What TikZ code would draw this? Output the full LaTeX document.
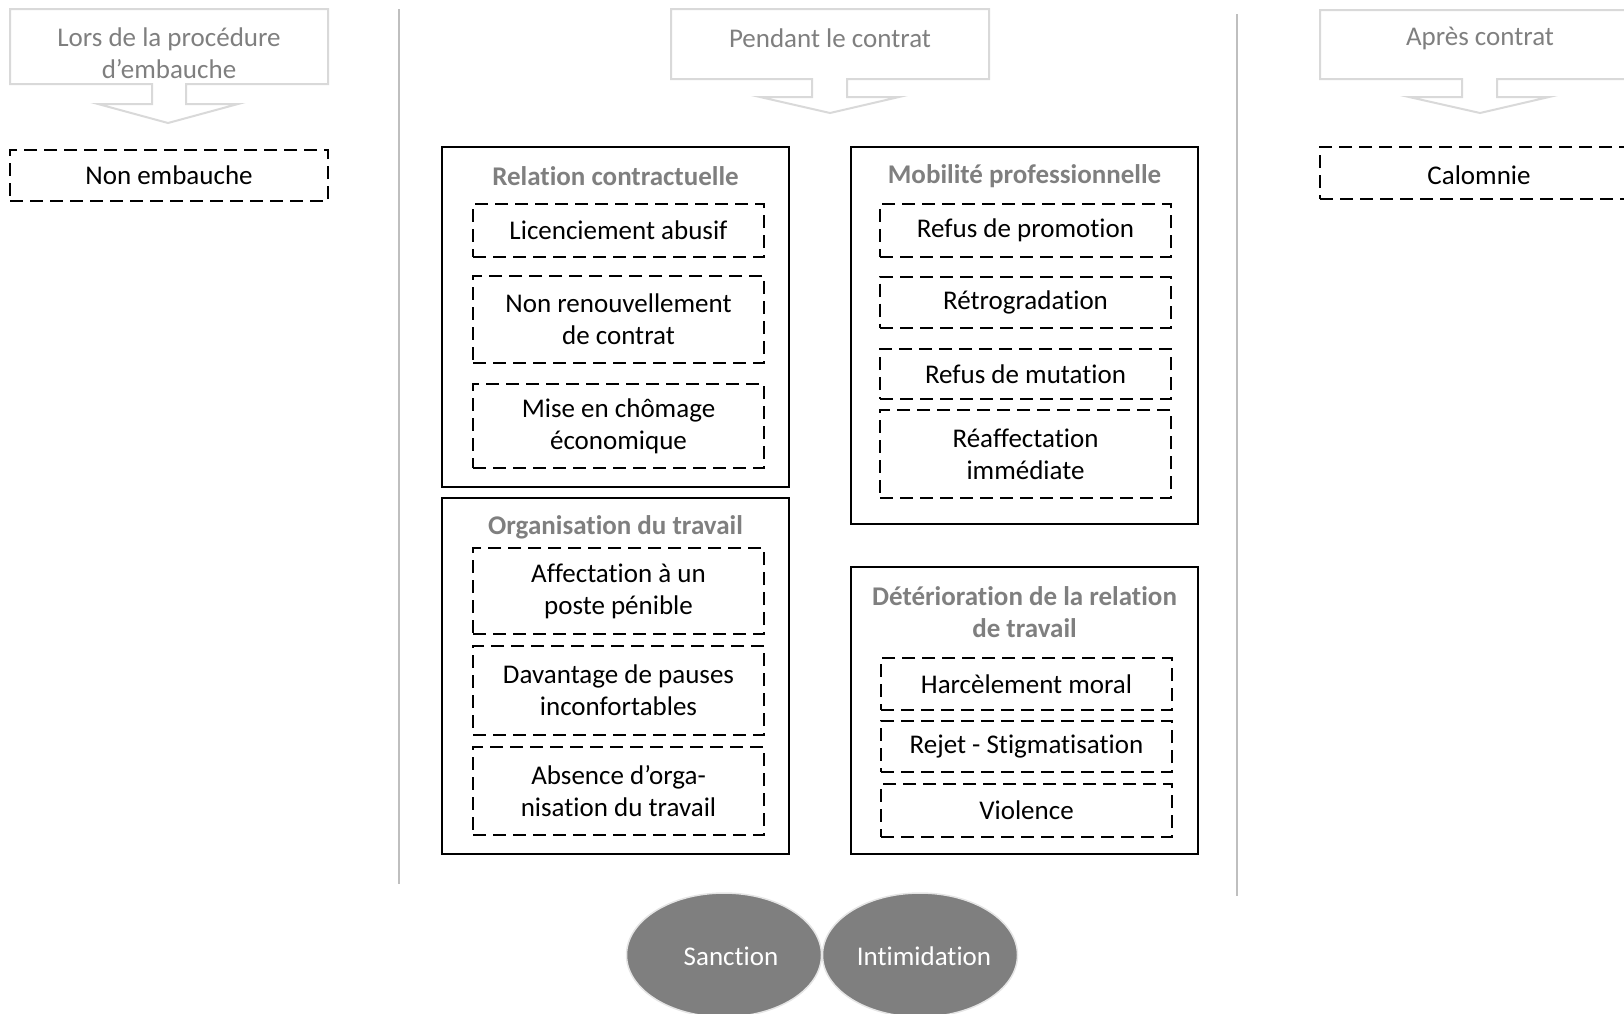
\documentclass[tikz,border=0pt]{standalone}
\usepackage{fontspec}
\setmainfont{Carlito}[RawFeature={-liga;-clig;-dlig;-calt;-rlig;-hlig}]
% keep "t" and "i" as separate glyphs
\XeTeXinterchartokenstate=1
\newXeTeXintercharclass\tletterclass
\newXeTeXintercharclass\iletterclass
\XeTeXcharclass`t=\tletterclass
\XeTeXcharclass`i=\iletterclass
\XeTeXinterchartoks\tletterclass\iletterclass={\kern0pt }
\usetikzlibrary{shapes.geometric}
\definecolor{calloutline}{HTML}{D9D9D9}
\definecolor{callouttext}{HTML}{7F7F7F}
\definecolor{titlegray}{HTML}{7F7F7F}
\definecolor{sepgray}{HTML}{BFBFBF}
\definecolor{ovalfill}{HTML}{7F7F7F}

\begin{document}
\begin{tikzpicture}[x=1pt,y=-1pt,
  every node/.style={font=\fontsize{27}{32}\selectfont, align=center, inner sep=0pt},
  callout/.style={draw=calloutline, line width=2pt, line join=miter},
  calltext/.style={text=callouttext},
  frame/.style={draw=black, line width=2pt, rectangle, minimum width=347pt},
  dbox/.style={draw=black, line width=2pt, dash pattern=on 13pt off 7pt, rectangle, minimum width=291pt},
  grouptitle/.style={text=titlegray, font=\fontsize{27}{32}\selectfont\bfseries},
  sep/.style={draw=sepgray, line width=2pt},
  oval/.style={ellipse, fill=ovalfill, draw=white!90!black, line width=1.5pt,
    minimum width=195pt, minimum height=124pt},
  ovaltext/.style={text=white},
]
\useasboundingbox (0,0) rectangle (1624,1013);
\clip (0,0) rectangle (1624,1013);

% ---- phase callouts (box with a down arrow) ----
\draw[callout] (10,9) -- (328,9) -- (328,84) -- (186,84) -- (186,104) -- (238,104)
  -- (168,123) -- (98,104) -- (152,104) -- (152,84) -- (10,84) -- cycle;
\node[calltext] (phase1) at (169,53) {Lors de la procédure\\d’embauche};

\draw[callout] (671,9) -- (989,9) -- (989,79) -- (847,79) -- (847,97) -- (899,97)
  -- (830,113) -- (760,97) -- (812,97) -- (812,79) -- (671,79) -- cycle;
\node[calltext] (phase2) at (830,38) {Pendant le contrat};

\draw[callout] (1320,10) -- (1640,10) -- (1640,79) -- (1497,79) -- (1497,97) -- (1549,97)
  -- (1480,113) -- (1409,97) -- (1462,97) -- (1462,79) -- (1320,79) -- cycle;
\node[calltext] (phase3) at (1480,38) {Après contrat};

% ---- column separators ----
\coordinate (s1top) at (399,9);
\coordinate (s1bot) at (399,884);
\coordinate (s2top) at (1237,14);
\coordinate (s2bot) at (1237,896);
\draw[sep] (s1top) -- (s1bot);
\draw[sep] (s2top) -- (s2bot);

% ---- before / after contract ----
\node[dbox, minimum width=318pt, minimum height=51pt] (nonemb) at (169,175.5) {Non embauche};
\node[dbox, minimum width=320pt, minimum height=52pt] (calom) at (1480,173) {};
\node (calomtxt) at (1479,175) {Calomnie};

% ---- Relation contractuelle ----
\node[frame, minimum height=340pt] (rc) at (615.5,317) {};
\node[grouptitle] (rct) at (615.5,176) {Relation contractuelle};
\node[dbox, minimum height=53pt] (rc1) at (618.5,230.5) {Licenciement abusif};
\node[dbox, minimum height=87pt] (rc2) at (618.5,319.5) {Non renouvellement\\de contrat};
\node[dbox, minimum height=84pt] (rc3) at (618.5,426) {Mise en chômage\\économique};

% ---- Organisation du travail ----
\node[frame, minimum height=356pt] (ot) at (615.5,676) {};
\node[grouptitle] (ott) at (615.5,527) {Organisation du travail};
\node[dbox, minimum height=86pt] (ot1) at (618.5,591) {Affectation à un\\poste pénible};
\node[dbox, minimum height=89pt] (ot2) at (618.5,690.5) {Davantage de pauses\\inconfortables};
\node[dbox, minimum height=88pt] (ot3) at (618.5,791) {Absence d’orga-\\nisation du travail};

% ---- Mobilité professionnelle ----
\node[frame, minimum height=377pt] (mp) at (1024.5,335.5) {};
\node[grouptitle] (mpt) at (1024.5,176) {Mobilité professionnelle};
\node[dbox, minimum height=53pt] (mp1) at (1025.5,230.5) {Refus de promotion};
\node[dbox, minimum height=51pt] (mp2) at (1025.5,302) {Rétrogradation};
\node[dbox, minimum height=50pt] (mp3) at (1025.5,374) {Refus de mutation};
\node[dbox, minimum height=88pt] (mp4) at (1025.5,454) {Réaffectation\\immédiate};

% ---- Détérioration de la relation de travail ----
\node[frame, minimum height=287pt] (dr) at (1024.5,710.5) {};
\node[grouptitle] (drt) at (1024.5,612) {Détérioration de la relation\\de travail};
\node[dbox, minimum height=52pt] (dr1) at (1026.5,684) {Harcèlement moral};
\node[dbox, minimum height=51pt] (dr2) at (1026.5,746.5) {Rejet - Stigmatisation};
\node[dbox, minimum height=53pt] (dr3) at (1026.5,810.5) {Violence};

% ---- outcomes ----
\node[oval] (sanc) at (724,955) {};
\node[ovaltext] (sanct) at (731,956) {Sanction};
\node[oval] (intim) at (920,955) {};
\node[ovaltext] (intimt) at (924,956) {Intimidation};
\end{tikzpicture}
\end{document}
